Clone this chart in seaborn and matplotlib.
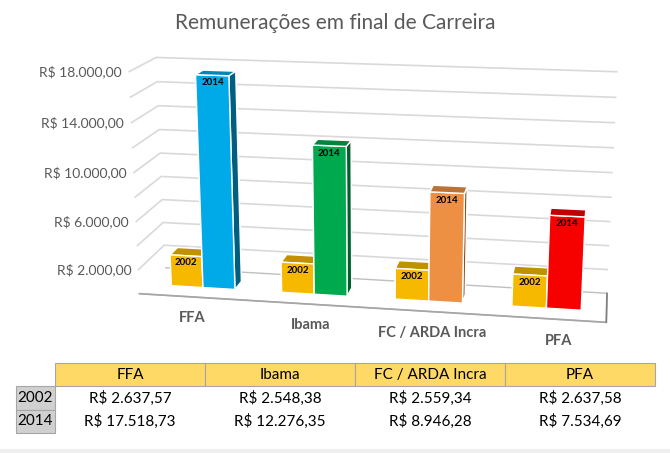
import numpy as np
import matplotlib
matplotlib.use("Agg")
import matplotlib.pyplot as plt
import matplotlib.colors as mcolors
from mpl_toolkits.mplot3d import proj3d
import seaborn as sns

sns.set_theme(style="white")
plt.rcParams['font.family'] = ['Lato', 'DejaVu Sans']

categories = ["FFA", "Ibama", "FC / ARDA Incra", "PFA"]
years = ["2002", "2014"]
vals_2002 = [2637.57, 2548.38, 2559.34, 2637.58]
vals_2014 = [17518.73, 12276.35, 8946.28, 7534.69]
colors_2014 = ["#00B0F0", "#00B050", "#F79646", "#FF0000"]
color_2002 = "#FFC000"
zticks = list(range(2000, 18001, 2000))
zlabels_at = [2000, 6000, 10000, 14000, 18000]


def brl(v):
    s = f"{v:,.2f}"
    return "R$ " + s.replace(",", "X").replace(".", ",").replace("X", ".")


fig = plt.figure(figsize=(6.7, 4.53), dpi=100)
fig.text(0.5, 0.95, "Remunerações em final de Carreira", ha="center", va="center",
         fontsize=15, color="#595959")

# vista 3D ajustada para parecer com o grafico do Excel
ax = fig.add_axes([0.1622, 0.0074, 0.7688, 1.1370], projection="3d")
ax.set_proj_type("persp", focal_length=0.4875)
ax.view_init(elev=15.3, azim=-80.1)
ax.set_box_aspect((4, 0.7094, 1.95))

pos = np.arange(len(categories))
bw = 0.29
y0, dy = 0.35, 0.3
light = mcolors.LightSource(azdeg=200, altdeg=18)
ax.bar3d(pos - bw, np.full(4, y0), np.zeros(4), bw, dy, vals_2002,
         color=color_2002, shade=True, lightsource=light)
ax.bar3d(pos, np.full(4, y0), np.zeros(4), bw, dy, vals_2014,
         color=colors_2014, shade=True, lightsource=light)

ax.set_xlim(-0.5, 3.5)
ax.set_ylim(0, 1)
ax.set_zlim(0, 18000)
ax.set_xticks([])
ax.set_yticks([])
ax.set_zticks(zticks)
for a in (ax.xaxis, ax.yaxis, ax.zaxis):
    a.set_tick_params(label1On=False, label2On=False)
    a.set_pane_color((1, 1, 1, 1))
    a._axinfo["grid"].update(color="#D9D9D9", linewidth=1.2)
    a._axinfo["tick"]["inward_factor"] = 0
    a._axinfo["tick"]["outward_factor"] = 0
ax.xaxis.pane.set_edgecolor((1, 1, 1, 0))
ax.yaxis.pane.set_edgecolor((1, 1, 1, 0))
ax.zaxis.pane.set_edgecolor("#BFBFBF")
ax.xaxis.line.set_color("#A6A6A6")
ax.yaxis.line.set_color("#7F7F7F")
ax.zaxis.line.set_color((1, 1, 1, 0))

M = ax.get_proj()


def label(x, y, z, s, **kw):
    # projeta o ponto 3D e escreve como texto 2D
    px, py, _ = proj3d.proj_transform(x, y, z, M)
    ax.text2D(px, py, s, ha="center", va="center", **kw)


for v in zlabels_at:
    px, py, _ = proj3d.proj_transform(-0.56, 0, v, M)
    ax.text2D(px, py, brl(v), ha="right", va="center", fontsize=10,
              color="#595959")
for i, c in enumerate(categories):
    label(pos[i] + 0.13, -0.68, 0, c, fontsize=10.5, fontweight="bold",
          color="#595959")
for i in range(4):
    label(pos[i] - bw / 2, y0, vals_2002[i] - 600, "2002", fontsize=7,
          fontweight="bold", color="black")
    label(pos[i] + bw / 2, y0, vals_2014[i] - 600, "2014", fontsize=7,
          fontweight="bold", color="black")

# tabela de dados
cell_text = [[years[0]] + [brl(v) for v in vals_2002],
             [years[1]] + [brl(v) for v in vals_2014]]
axt = fig.add_axes([16 / 670, 20 / 453, 639 / 670, 70 / 453])
axt.axis("off")
t = axt.table(cellText=cell_text, colLabels=[""] + categories,
              colWidths=[39] + [150] * 4, bbox=[0, 0, 1, 1], cellLoc="center")
t.auto_set_font_size(False)
for (r, c), cell in t.get_celld().items():
    cell.set_edgecolor("#A6A6A6")
    cell.set_linewidth(0.8)
    cell.get_text().set_fontsize(11)
    cell.get_text().set_color("black")
    if r == 0:
        cell.set_facecolor("#FFD966")
        if c == 0:
            cell.set_facecolor("white")
            cell.visible_edges = ""
    elif c == 0:
        cell.set_facecolor("#D0D0D0")
    else:
        cell.set_facecolor("#F2F2F2")
        cell.visible_edges = "open"

# faixa cinza no rodape
fig.add_artist(plt.Rectangle((0, 0), 1, 4 / 453, transform=fig.transFigure,
                             facecolor="#EFEFEF", edgecolor="none"))

fig.savefig("out.png", dpi=100)
